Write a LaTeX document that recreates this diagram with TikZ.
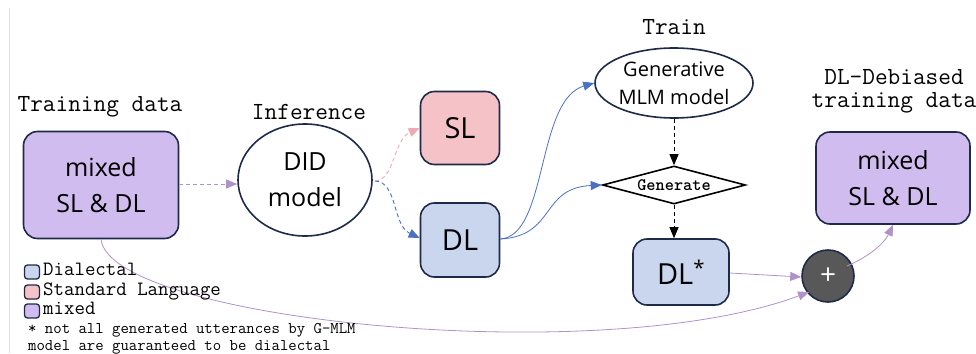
\documentclass[tikz,border=0pt]{standalone}
\usepackage{fontspec}
\setsansfont{Open Sans}
\newfontfamily\monobold{lmmonolt10-bold.otf}
\usetikzlibrary{shapes.geometric,arrows.meta}
\definecolor{navy}{RGB}{30,42,74}
\definecolor{mixfill}{RGB}{208,188,238}
\definecolor{slfill}{RGB}{245,194,200}
\definecolor{dlfill}{RGB}{201,214,238}
\definecolor{slline}{RGB}{240,168,180}
\definecolor{dlline}{RGB}{74,112,196}
\definecolor{mixline}{RGB}{176,146,202}
\definecolor{plusfill}{RGB}{88,88,88}
\definecolor{frameline}{RGB}{222,222,222}
\begin{document}
\begin{tikzpicture}[x=1pt,y=-1pt,
  databox/.style={draw=navy,line width=1.6pt,rounded corners=14pt,inner sep=0pt,
    align=center,font=\sffamily\fontsize{25}{36}\selectfont},
  modelell/.style={ellipse,draw=navy,line width=1.6pt,fill=white,inner sep=0pt,
    align=center},
  steplabel/.style={font=\ttfamily\fontsize{24.6}{23}\selectfont,align=center,inner sep=0pt},
  legsq/.style={draw=navy,line width=1.3pt,rounded corners=3pt,minimum width=15pt,
    minimum height=14pt,inner sep=0pt},
  legtext/.style={font=\ttfamily\fontsize{20.3}{21}\selectfont,anchor=west,inner sep=0pt,
    text height=10pt,text depth=3pt},
  tip/.style={-{Triangle[length=11pt,width=9pt]}},
  dashline/.style={dash pattern=on 4pt off 3pt,line width=0.9pt},
  thinline/.style={line width=0.8pt}]
\useasboundingbox (0,0) rectangle (976,353);
% left frame rule
\draw[frameline,line width=1.2pt] (9.5,8) -- (9.5,353);

% stage labels
\node[steplabel] (lblTrain0) at (100,107) {Training data};
\node[steplabel] (lblInf) at (309,112) {Inference};
\node[steplabel] (lblTrain) at (674,27) {Train};
\node[steplabel] (lblDeb) at (894,91) {DL-Debiased\\training data};

% data boxes
\node[databox,fill=mixfill,minimum width=155pt,minimum height=107pt] (mix) at (101,185) {mixed\\SL \& DL};
\node[databox,fill=slfill,minimum width=79pt,minimum height=73pt,font=\sffamily\fontsize{29}{30}\selectfont] (sl) at (460,128) {SL};
\node[databox,fill=dlfill,minimum width=79pt,minimum height=74pt,font=\sffamily\fontsize{29}{30}\selectfont] (dl) at (460,240) {DL};
\node[databox,fill=dlfill,minimum width=96pt,minimum height=66pt,font=\sffamily\fontsize{29}{30}\selectfont] (dls) at (681,272) {DL\textsuperscript{*}};
\node[databox,fill=mixfill,minimum width=154pt,minimum height=92pt] (out) at (893,178) {mixed\\SL \& DL};

% models
\node[modelell,minimum width=134pt,minimum height=112pt,font=\sffamily\fontsize{25}{36}\selectfont] (did) at (305,180) {DID\\model};
\node[modelell,minimum width=158pt,minimum height=70pt,font=\sffamily\fontsize{20}{28}\selectfont] (gen) at (674,83) {Generative\\MLM model};
\node[diamond,draw=black,line width=1.6pt,fill=white,aspect=3.9,inner sep=0pt,
  minimum width=143pt,minimum height=38pt,font=\monobold\fontsize{17.5}{18}\selectfont] (gnr) at (674,185) {Generate};

% combination node
\node[circle,draw=navy,line width=1.6pt,fill=plusfill,minimum size=52pt,inner sep=0pt,
  text=white,font=\sffamily\fontsize{28}{28}\selectfont] (plus) at (828,276) {+};

% connectors
\draw[tip,dashline,mixline] (mix.east |- 0,184) -- (did.west |- 0,184);
\coordinate (didout) at (375,181);
\draw[tip,dashline,slline] (didout) .. controls (395,180) and (393,140) .. (sl.west |- 0,128);
\draw[tip,dashline,dlline] (didout) .. controls (398,182) and (392,225) .. (dl.west |- 0,238);
\coordinate (dlout) at (dl.east |- 0,239);
\draw[tip,thinline,dlline] (dlout) .. controls (548,236) and (536,100) .. (gen.west |- 0,83);
\draw[tip,thinline,dlline] (dlout) .. controls (556,236) and (540,188) .. (gnr.west);
\draw[tip,dashline,black] (gen.south) -- (gnr.north);
\draw[tip,dashline,black] (gnr.south) -- (dls.north -| gnr.south);
\draw[tip,thinline,mixline] (dls.east |- 0,273) -- (plus.west |- 0,277);
\draw[tip,thinline,mixline] (mix.south) .. controls (110,320) and (600,370) .. (plus.south west |- 0,292);
\draw[tip,thinline,mixline] (plus.north east |- 0,266) .. controls (873,255) and (886,240) .. (out.south);

% legend
\node[legsq,fill=dlfill] (sqdl) at (32,272) {};
\node[legtext] (txdl) at (43,272) {Dialectal};
\node[legsq,fill=slfill] (sqsl) at (32,292) {};
\node[legtext] (txsl) at (43,292) {Standard Language};
\node[legsq,fill=mixfill] (sqmix) at (32,311) {};
\node[legtext] (txmix) at (43,311) {mixed};
\node[font=\ttfamily\fontsize{16.3}{17.5}\selectfont,anchor=north west,align=left,inner sep=0pt] (note) at (28,323)
  {* not all generated utterances by G-MLM\\model are guaranteed to be dialectal};
\end{tikzpicture}
\end{document}
